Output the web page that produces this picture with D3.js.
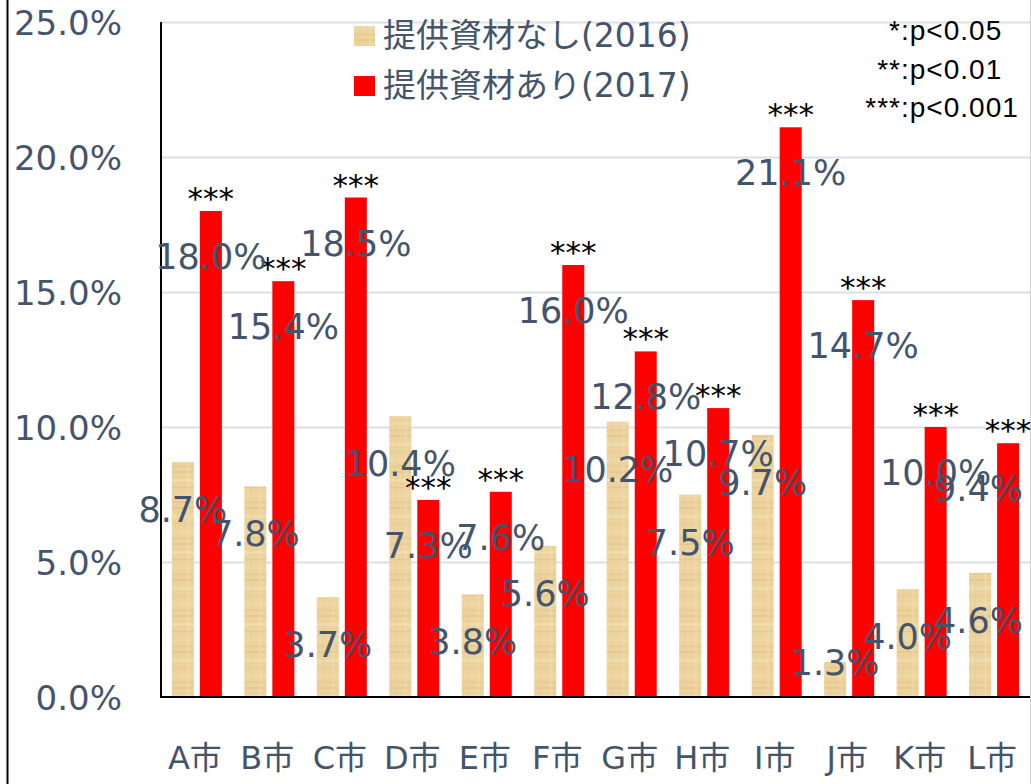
<!DOCTYPE html>
<html>
<head>
<meta charset="utf-8">
<script src="https://cdn.jsdelivr.net/npm/d3@7"></script>
<style>
  body { margin: 0; background: #fff; }
  svg { display: block; }
  text { font-family: "DejaVu Sans", "Noto Sans CJK JP", sans-serif; }
</style>
</head>
<body>
<div id="chart"></div>
<script>
"use strict";

var cities = ["A市", "B市", "C市", "D市", "E市", "F市", "G市", "H市", "I市", "J市", "K市", "L市"];
var without2016 = [8.7, 7.8, 3.7, 10.4, 3.8, 5.6, 10.2, 7.5, 9.7, 1.3, 4.0, 4.6];
var with2017 = [18.0, 15.4, 18.5, 7.3, 7.6, 16.0, 12.8, 10.7, 21.1, 14.7, 10.0, 9.4];
var stars = ["***", "***", "***", "***", "***", "***", "***", "***", "***", "***", "***", "***"];
var seriesNames = ["提供資材なし(2016)", "提供資材あり(2017)"];
var yTicks = [0, 5, 10, 15, 20, 25];
var notes = [["*", ":p<0.05"], ["**", ":p<0.01"], ["***", ":p<0.001"]];

var width = 1031, height = 784,
    margin = {top: 22, right: 1, bottom: 87, left: 161},
    textColor = "#44546A",
    red = "#FF0000";

var svg = d3.select("#chart").append("svg")
    .attr("width", width)
    .attr("height", height);

// parchment-like fill for the 2016 bars
var defs = svg.append("defs");
var pat = defs.append("pattern")
    .attr("id", "paper")
    .attr("patternUnits", "userSpaceOnUse")
    .attr("width", 24)
    .attr("height", 36);
pat.append("rect").attr("width", 24).attr("height", 36).attr("fill", "#ECD29D");
[[0, 3, 24, 2, "#E2C387", 0.6], [0, 11, 24, 3, "#F3DFB3", 0.7], [0, 19, 24, 1, "#DDBE82", 0.5],
 [0, 26, 24, 4, "#F0D9A8", 0.7], [0, 33, 24, 2, "#E4C68C", 0.6], [5, 0, 2, 36, "#E6CA90", 0.35],
 [15, 0, 3, 36, "#F2DCAE", 0.4]].forEach(function (r) {
    pat.append("rect").attr("x", r[0]).attr("y", r[1])
        .attr("width", r[2]).attr("height", r[3])
        .attr("fill", r[4]).attr("opacity", r[5]);
});

var x0 = d3.scaleBand()
    .domain(cities)
    .range([margin.left, width - margin.right])
    .paddingInner(0.31)
    .paddingOuter(0.15);

var x1 = d3.scaleBand()
    .domain([0, 1])
    .range([0, x0.bandwidth()])
    .paddingInner(0.214);

var y = d3.scaleLinear()
    .domain([0, 25])
    .range([height - margin.bottom, margin.top]);

// outer frame
svg.append("line").attr("x1", 7.5).attr("x2", 7.5).attr("y1", 0).attr("y2", height)
    .attr("stroke", "#000").attr("stroke-width", 2);
svg.append("line").attr("x1", 1030.5).attr("x2", 1030.5).attr("y1", 0).attr("y2", height)
    .attr("stroke", "#D0D0D0").attr("stroke-width", 1);

// gridlines
svg.append("g")
    .selectAll("line")
    .data(yTicks.filter(function (d) { return d > 0; }))
    .enter().append("line")
    .attr("x1", margin.left)
    .attr("x2", width - margin.right)
    .attr("y1", function (d) { return Math.round(y(d)) + 0.5; })
    .attr("y2", function (d) { return Math.round(y(d)) + 0.5; })
    .attr("stroke", "#DCE0E6")
    .attr("stroke-width", 2);

// y axis labels
var yAxis = d3.axisLeft(y)
    .tickValues(yTicks)
    .tickSize(0)
    .tickPadding(39)
    .tickFormat(function (d) { return d3.format(".1f")(d) + "%"; });
var yg = svg.append("g")
    .attr("transform", "translate(" + margin.left + ",0)")
    .call(yAxis);
yg.select(".domain").remove();
yg.selectAll("text")
    .attr("fill", textColor)
    .attr("font-size", 34)
    .attr("dy", "0.36em")
    .style("font-family", "'DejaVu Sans', sans-serif");

// bars
var groups = svg.append("g")
    .selectAll("g")
    .data(cities)
    .enter().append("g")
    .attr("transform", function (d) { return "translate(" + x0(d) + ",0)"; });

groups.append("rect")
    .attr("x", x1(0))
    .attr("width", x1.bandwidth())
    .attr("y", function (d, i) { return y(without2016[i]); })
    .attr("height", function (d, i) { return y(0) - y(without2016[i]); })
    .attr("fill", "url(#paper)");

groups.append("rect")
    .attr("x", x1(1))
    .attr("width", x1.bandwidth())
    .attr("y", function (d, i) { return y(with2017[i]); })
    .attr("height", function (d, i) { return y(0) - y(with2017[i]); })
    .attr("fill", red);

// significance stars
groups.append("text")
    .attr("x", x1(1) + x1.bandwidth() / 2)
    .attr("y", function (d, i) { return y(with2017[i]) - 2; })
    .attr("text-anchor", "middle")
    .attr("font-size", 31)
    .attr("fill", "#000")
    .text(function (d, i) { return stars[i]; });

// axes lines
svg.append("line")
    .attr("x1", margin.left).attr("x2", margin.left)
    .attr("y1", y(25)).attr("y2", y(0))
    .attr("stroke", "#000").attr("stroke-width", 2);
svg.append("line")
    .attr("x1", margin.left - 1).attr("x2", width - margin.right)
    .attr("y1", y(0)).attr("y2", y(0))
    .attr("stroke", "#000").attr("stroke-width", 2);

// data labels
var fmt = function (v) { return d3.format(".1f")(v) + "%"; };
var labelLayer = svg.append("g");
function addLabels(values, sub, offset) {
    values.forEach(function (v, i) {
        var cx = x0(cities[i]) + x1(sub) + x1.bandwidth() / 2;
        var t = labelLayer.append("text")
            .attr("x", cx)
            .attr("y", Math.min(y(v) + offset, y(0) - 22))
            .attr("text-anchor", "middle")
            .attr("font-size", 35)
            .attr("fill", textColor)
            .text(fmt(v));
        var w = t.node().getComputedTextLength();
        if (cx + w / 2 > width - 8) t.attr("x", width - 8 - w / 2);
    });
}
addLabels(without2016, 0, 60);
addLabels(with2017, 1, 58);

// x axis labels
svg.append("g")
    .selectAll("text")
    .data(cities)
    .enter().append("text")
    .attr("x", function (d) { return x0(d) + x0.bandwidth() / 2 - 2; })
    .attr("y", 769)
    .attr("text-anchor", "middle")
    .attr("font-size", 32)
    .attr("fill", textColor)
    .text(function (d) { return d; });

// legend
var legend = svg.append("g").attr("transform", "translate(354,0)");
var legendFills = ["url(#paper)", red];
seriesNames.forEach(function (name, i) {
    var ly = 36 + i * 50;
    legend.append("rect")
        .attr("x", 0).attr("y", ly - 10)
        .attr("width", 21).attr("height", 20)
        .attr("fill", legendFills[i]);
    legend.append("text")
        .attr("x", 29).attr("y", ly + 11)
        .attr("font-size", 33)
        .attr("fill", textColor)
        .text(name);
});

// significance notes
var noteBase = [40, 79, 117];
notes.forEach(function (n, i) {
    svg.append("text")
        .attr("x", 901).attr("y", noteBase[i])
        .attr("text-anchor", "end")
        .attr("font-size", 28)
        .attr("letter-spacing", 1)
        .style("font-family", "'Liberation Sans', sans-serif")
        .attr("fill", "#000")
        .text(n[0]);
    svg.append("text")
        .attr("x", 901).attr("y", noteBase[i])
        .attr("font-size", 28)
        .attr("letter-spacing", 1)
        .style("font-family", "'Liberation Sans', sans-serif")
        .attr("fill", "#000")
        .text(n[1]);
});
</script>
</body>
</html>
